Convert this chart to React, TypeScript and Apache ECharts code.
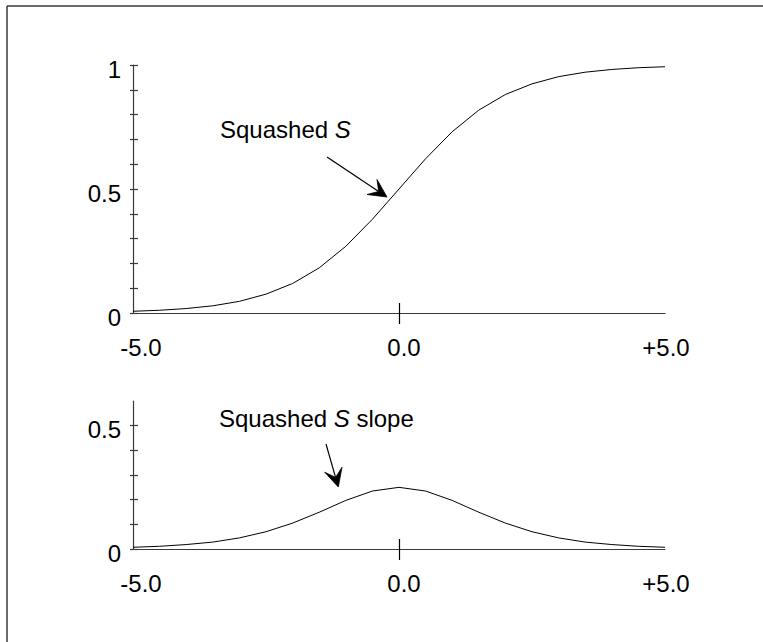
import { useEffect, useRef } from 'react';
import * as echarts from 'echarts';

// x positions of the plotted points
const xValues = [-5, -4.5, -4, -3.5, -3, -2.5, -2, -1.5, -1, -0.5, 0, 0.5, 1, 1.5, 2, 2.5, 3, 3.5, 4, 4.5, 5];
// "Squashed S" curve values
const squashedS = [0.007, 0.011, 0.018, 0.029, 0.047, 0.076, 0.119, 0.182, 0.269, 0.378, 0.5, 0.622, 0.731, 0.818, 0.881, 0.924, 0.953, 0.971, 0.982, 0.989, 0.993];
// "Squashed S slope" curve values
const squashedSlope = [0.007, 0.011, 0.018, 0.028, 0.045, 0.07, 0.105, 0.149, 0.197, 0.235, 0.25, 0.235, 0.197, 0.149, 0.105, 0.07, 0.045, 0.028, 0.018, 0.011, 0.007];

const xTickLabels: Record<string, string> = { '-5': '-5.0', '0': '0.0', '5': '+5.0' };
const topYLabels = [0, 0.5, 1];
const bottomYLabels = [0, 0.5];
const bottomYTicks = [0, 0.1, 0.2, 0.3, 0.4, 0.5];
const xTicks = [0];

const FONT = "'Liberation Sans', Arial, Helvetica, sans-serif";
const AXIS_COLOR = '#3a3a3a';

function arrowElements(x1: number, y1: number, x2: number, y2: number) {
  const dx = x2 - x1;
  const dy = y2 - y1;
  const len = Math.hypot(dx, dy);
  const ux = dx / len;
  const uy = dy / len;
  const nx = -uy;
  const ny = ux;
  const L = 18;
  const W = 9;
  const B = 10;
  return [
    {
      type: 'line',
      shape: { x1, y1, x2: x2 - B * ux, y2: y2 - B * uy },
      style: { stroke: '#000', lineWidth: 1.2 },
    },
    {
      type: 'polygon',
      shape: {
        points: [
          [x2, y2],
          [x2 - L * ux + W * nx, y2 - L * uy + W * ny],
          [x2 - B * ux, y2 - B * uy],
          [x2 - L * ux - W * nx, y2 - L * uy - W * ny],
        ],
      },
      style: { fill: '#000', stroke: '#000', lineWidth: 0.8 },
    },
  ];
}

function xAxisPair(gridIndex: number, gridHeight: number) {
  const base = {
    type: 'value',
    gridIndex,
    min: -5,
    max: 5,
    interval: 5,
    splitLine: { show: false },
  };
  return [
    {
      ...base,
      position: 'bottom',
      axisLine: { show: true, onZero: false, lineStyle: { color: AXIS_COLOR, width: 1.2 } },
      axisTick: { show: true, customValues: xTicks, length: 11, lineStyle: { color: '#000', width: 1.2 } },
      axisLabel: {
        show: true,
        margin: 22,
        color: '#000',
        fontSize: 24,
        fontFamily: FONT,
        formatter: (v: number) => {
          const key = String(Math.round(v));
          const cls = key === '-5' ? 'a' : key === '0' ? 'b' : 'c';
          return '{' + cls + '|' + (xTickLabels[key] ?? '') + '}';
        },
        rich: {
          a: { fontSize: 24, fontFamily: FONT, color: '#000', padding: [0, 0, 0, 16] },
          b: { fontSize: 24, fontFamily: FONT, color: '#000', padding: [0, 0, 0, 10] },
          c: { fontSize: 24, fontFamily: FONT, color: '#000', padding: [0, 0, 0, 2] },
        },
      },
    },
    {
      ...base,
      position: 'top',
      offset: -gridHeight,
      axisLine: { show: false, onZero: false },
      axisTick: { show: true, customValues: xTicks, length: 10, lineStyle: { color: '#000', width: 1.2 } },
      axisLabel: { show: false },
    },
  ];
}

function yAxisPair(gridIndex: number, max: number, labels: number[], ticks: number[] | null, gridWidth: number) {
  const base = {
    type: 'value',
    gridIndex,
    min: 0,
    max,
    interval: 0.1,
    splitLine: { show: false },
  };
  const tickExtra = ticks ? { customValues: ticks } : {};
  return [
    {
      ...base,
      position: 'left',
      axisLine: { show: true, onZero: false, lineStyle: { color: AXIS_COLOR, width: 1.2 } },
      axisTick: { show: true, length: 3, ...tickExtra, lineStyle: { color: AXIS_COLOR, width: 1.2 } },
      axisLabel: {
        show: true,
        margin: 12,
        color: '#000',
        fontSize: 24,
        fontFamily: FONT,
        customValues: labels,
        formatter: (v: number) => {
          const hit = labels.find((l) => Math.abs(l - v) < 1e-6);
          return hit === undefined ? '' : '{v|' + String(hit) + '}';
        },
        rich: {
          v: { fontSize: 24, fontFamily: FONT, color: '#000', padding: [8, 0, 0, 0] },
        },
      },
    },
    {
      ...base,
      position: 'right',
      offset: -gridWidth,
      axisLine: { show: false, onZero: false },
      axisTick: { show: true, length: 5, ...tickExtra, lineStyle: { color: AXIS_COLOR, width: 1.2 } },
      axisLabel: { show: false },
    },
  ];
}

export default function App() {
  const ref = useRef<HTMLDivElement>(null);
  useEffect(() => {
    if (!ref.current) return;
    const chart = echarts.init(ref.current, null, { renderer: 'svg' });
    const gridW = 532;
    const topH = 248;
    const botH = 148;
    const textRich = {
      n: { fontSize: 24, fontFamily: FONT, fill: '#000' },
      i: { fontSize: 24, fontFamily: FONT, fill: '#000', fontStyle: 'italic' },
    };
    const option: any = {
      animation: false,
      backgroundColor: '#fff',
      grid: [
        { left: 133, top: 65, width: gridW, height: topH },
        { left: 133, top: 401, width: gridW, height: botH },
      ],
      xAxis: [...xAxisPair(0, topH), ...xAxisPair(1, botH)],
      yAxis: [
        ...yAxisPair(0, 1, topYLabels, null, gridW),
        ...yAxisPair(1, 0.6, bottomYLabels, bottomYTicks, gridW),
      ],
      series: [
        {
          type: 'line',
          xAxisIndex: 0,
          yAxisIndex: 0,
          data: xValues.map((x, i) => [x, squashedS[i]]),
          showSymbol: false,
          symbol: 'none',
          lineStyle: { color: '#000', width: 1 },
        },
        {
          type: 'line',
          xAxisIndex: 2,
          yAxisIndex: 2,
          data: xValues.map((x, i) => [x, squashedSlope[i]]),
          showSymbol: false,
          symbol: 'none',
          lineStyle: { color: '#000', width: 1 },
        },
      ],
      graphic: [
        { type: 'line', shape: { x1: 7, y1: 6, x2: 7, y2: 642 }, style: { stroke: AXIS_COLOR, lineWidth: 1.5 } },
        { type: 'line', shape: { x1: 7, y1: 6, x2: 763, y2: 6 }, style: { stroke: AXIS_COLOR, lineWidth: 1.5 } },
        {
          type: 'text',
          x: 220,
          y: 129,
          style: { text: '{n|Squashed }{i|S}', rich: textRich, verticalAlign: 'middle', fill: '#000', fontSize: 24, fontFamily: FONT },
        },
        {
          type: 'text',
          x: 219,
          y: 418,
          style: { text: '{n|Squashed }{i|S}{n| slope}', rich: textRich, verticalAlign: 'middle', fill: '#000', fontSize: 24, fontFamily: FONT },
        },
        ...arrowElements(327, 157, 387, 197),
        ...arrowElements(326, 444, 338.3, 487),
      ],
    };
    chart.setOption(option);
    return () => chart.dispose();
  }, []);
  return (
    <div
      ref={ref}
      style={{ position: 'absolute', left: 0, top: 0, width: 763, height: 642, background: '#fff' }}
    />
  );
}
